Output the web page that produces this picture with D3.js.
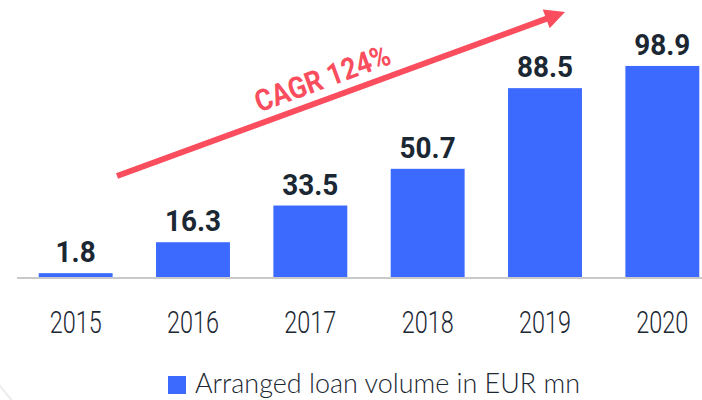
<!DOCTYPE html>
<html>
<head>
<meta charset="utf-8">
<script src="https://cdn.jsdelivr.net/npm/d3@7"></script>
<style>
  html, body { margin: 0; padding: 0; background: #fff; overflow: hidden; }
  svg { display: block; }
</style>
</head>
<body>
<div id="chart"></div>
<script>
var years = ["2015", "2016", "2017", "2018", "2019", "2020"];
var volumes = [1.8, 16.3, 33.5, 50.7, 88.5, 98.9];
var valueLabels = ["1.8", "16.3", "33.5", "50.7", "88.5", "98.9"];
var legendLabel = "Arranged loan volume in EUR mn";
var cagrLabel = "CAGR 124%";

var width = 702, height = 400;
var barColor = "#3d6afe", textColor = "#1b2733", red = "#fa4d5e";

var svg = d3.select("#chart").append("svg")
  .attr("width", width)
  .attr("height", height);

// faint background circle edge, bottom left only
svg.append("circle")
  .attr("cx", 480).attr("cy", 0).attr("r", 616)
  .attr("fill", "none")
  .attr("stroke", "#ececec")
  .attr("stroke-width", 2);

var x = d3.scaleBand().domain(years).range([17, 721]).paddingInner(0.37).paddingOuter(0.185);
var y = d3.scaleLinear().domain([0, 100]).range([277, 63.6]);

// bars
svg.selectAll("rect.bar")
  .data(volumes)
  .enter().append("rect")
  .attr("class", "bar")
  .attr("x", function(d, i) { return x(years[i]); })
  .attr("y", function(d) { return y(d); })
  .attr("width", x.bandwidth())
  .attr("height", function(d) { return y(0) - y(d); })
  .attr("fill", barColor);

// baseline
svg.append("line")
  .attr("x1", 17).attr("x2", width)
  .attr("y1", y(0) + 1).attr("y2", y(0) + 1)
  .attr("stroke", "#c9c9c9")
  .attr("stroke-width", 2);

// value labels
svg.selectAll("text.val")
  .data(volumes)
  .enter().append("text")
  .attr("class", "val")
  .attr("x", function(d, i) { return x(years[i]) + x.bandwidth() / 2; })
  .attr("y", function(d) { return y(d) - 11; })
  .attr("text-anchor", "middle")
  .attr("font-family", "Roboto, 'DejaVu Sans', sans-serif")
  .attr("font-weight", "bold")
  .attr("font-size", 30)
  .attr("fill", textColor)
  .text(function(d, i) { return valueLabels[i]; })
  .each(function() {
    var w = this.getComputedTextLength();
    d3.select(this).attr("textLength", w * 0.93).attr("lengthAdjust", "spacingAndGlyphs");
  });

// x axis labels
var xAxis = d3.axisBottom(x).tickSize(0).tickPadding(0);
var gx = svg.append("g")
  .attr("transform", "translate(0,333)")
  .call(xAxis);
gx.select(".domain").remove();
gx.selectAll("text")
  .attr("dy", 0)
  .attr("font-family", "Roboto, sans-serif")
  .attr("font-weight", 300)
  .attr("font-size", 31)
  .attr("fill", textColor)
  .attr("textLength", 52)
  .attr("lengthAdjust", "spacingAndGlyphs");

// CAGR arrow
var arrowStart = [117, 176], arrowTip = [565, 12];
var ang = Math.atan2(arrowTip[1] - arrowStart[1], arrowTip[0] - arrowStart[0]);
var headLen = 20, headW = 10;
var base = [arrowTip[0] - headLen * Math.cos(ang), arrowTip[1] - headLen * Math.sin(ang)];
svg.append("line")
  .attr("x1", arrowStart[0]).attr("y1", arrowStart[1])
  .attr("x2", base[0] + 2 * Math.cos(ang)).attr("y2", base[1] + 2 * Math.sin(ang))
  .attr("stroke", red)
  .attr("stroke-width", 6);
svg.append("path")
  .attr("d", "M" + arrowTip[0] + "," + arrowTip[1] +
    "L" + (base[0] + headW * Math.sin(ang)) + "," + (base[1] - headW * Math.cos(ang)) +
    "L" + (base[0] - headW * Math.sin(ang)) + "," + (base[1] + headW * Math.cos(ang)) + "Z")
  .attr("fill", red);

svg.append("text")
  .attr("transform", "translate(326,88) rotate(" + (ang * 180 / Math.PI) + ")")
  .attr("text-anchor", "middle")
  .attr("font-family", "Roboto, sans-serif")
  .attr("font-weight", "bold")
  .attr("font-size", 30)
  .attr("fill", red)
  .attr("textLength", 142)
  .attr("lengthAdjust", "spacingAndGlyphs")
  .text(cagrLabel);

// legend
var legend = svg.append("g").attr("transform", "translate(168,376)");
legend.append("rect")
  .attr("width", 18).attr("height", 18)
  .attr("fill", barColor);
legend.append("text")
  .attr("x", 27).attr("y", 17)
  .attr("font-family", "Lato, sans-serif")
  .attr("font-weight", 300)
  .attr("font-size", 28)
  .attr("fill", textColor)
  .attr("textLength", 385)
  .attr("lengthAdjust", "spacingAndGlyphs")
  .text(legendLabel);
</script>
</body>
</html>
